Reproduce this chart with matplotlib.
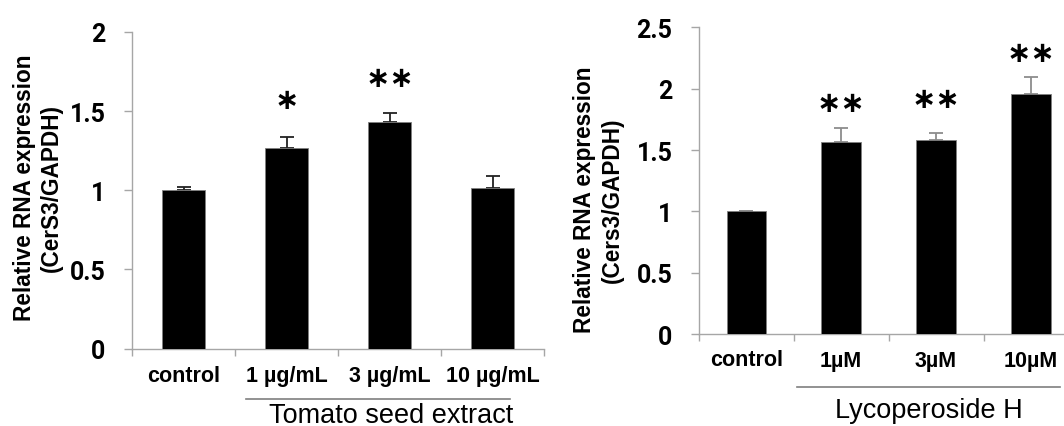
import matplotlib
matplotlib.use("Agg")
import matplotlib.pyplot as plt
from matplotlib.lines import Line2D

# ---- data ----
tse_labels = ["control", "1 µg/mL", "3 µg/mL", "10 µg/mL"]
tse_means = [1.00, 1.265, 1.43, 1.012]
tse_err = [0.02, 0.073, 0.06, 0.078]
tse_stars = ["", "*", "**", ""]
tse_star_y = [0, 1.57, 1.71, 0]

lyc_labels = ["control", "1µM", "3µM", "10µM"]
lyc_means = [1.00, 1.569, 1.58, 1.961]
lyc_err = [0.005, 0.114, 0.062, 0.131]
lyc_stars = ["", "**", "**", "**"]
lyc_star_y = [0, 1.88, 1.92, 2.29]

W, H = 1064, 427
fig = plt.figure(figsize=(W / 100, H / 100), dpi=100)

AXIS_GRAY = "#a6a6a6"
TICK_FONT = dict(family=["Roboto", "DejaVu Sans"], weight="bold", size=18)
CAT_FONT = dict(family=["Liberation Sans", "DejaVu Sans"], weight="bold", size=15.5)
YLAB_FONT = dict(family=["Liberation Sans", "DejaVu Sans"], weight="bold", size=16.3)
GROUP_FONT = dict(family=["Liberation Sans", "DejaVu Sans"], size=19.5)


def px_box(x0, x1, y_top, y_bottom):
    """Axes rectangle from pixel edges (origin top-left)."""
    return [x0 / W, 1 - y_bottom / H, (x1 - x0) / W, (y_bottom - y_top) / H]


def panel(rect, labels, means, errs, stars, star_y, ymax, yticks, ecolor,
          ylabel2, ylab_x, ylab_y, cat_y, line_y, line_x, group, group_x, group_base):
    ax = fig.add_axes(rect)
    x = range(len(labels))
    ax.bar(x, means, width=0.415, color="black", edgecolor="#7f7f7f",
           linewidth=0.6, zorder=3)
    ax.errorbar(x, means, yerr=[[0] * len(errs), errs], fmt="none",
                ecolor=ecolor, elinewidth=1.3, capsize=5, capthick=1.3, zorder=2)
    for xi, s, sy in zip(x, stars, star_y):
        if s:
            ax.text(xi, sy, s.replace("*", "∗"), ha="center", va="center",
                    fontsize=21, family=["DejaVu Sans"], fontweight="bold")
    ax.set_xlim(-0.5, len(labels) - 0.5)
    ax.set_ylim(0, ymax)
    ax.set_yticks(yticks)
    ax.set_yticklabels([f"{t:g}" for t in yticks], **TICK_FONT)
    ax.set_xticks([i - 0.5 for i in range(len(labels) + 1)])
    ax.set_xticklabels([])
    ax.tick_params(axis="y", direction="out", length=6, width=1, color=AXIS_GRAY, pad=13)
    ax.tick_params(axis="x", direction="out", length=5, width=1, color=AXIS_GRAY)
    for side in ("top", "right"):
        ax.spines[side].set_visible(False)
    for side in ("left", "bottom"):
        ax.spines[side].set_color(AXIS_GRAY)
        ax.spines[side].set_linewidth(1)
    ax.patch.set_visible(False)
    for i, lab in enumerate(labels):
        xc = ax.transData.transform((i, 0))[0]
        fig.text(xc / W, 1 - cat_y / H, lab, ha="center", va="center", **CAT_FONT)
    # y-axis title, two lines
    fig.text(ylab_x[0] / W, 1 - ylab_y / H, "Relative RNA expression", rotation=90,
             ha="center", va="center", **YLAB_FONT)
    fig.text(ylab_x[1] / W, 1 - ylab_y / H, ylabel2, rotation=90,
             ha="center", va="center", **YLAB_FONT)
    # treatment group bracket and caption
    fig.add_artist(Line2D([line_x[0] / W, line_x[1] / W], [1 - line_y / H] * 2,
                          color="#7f7f7f", linewidth=1.2))
    fig.text(group_x / W, 1 - group_base / H, group, ha="center", va="baseline",
             **GROUP_FONT)
    return ax


panel(px_box(132, 544, 33, 349.5), tse_labels, tse_means, tse_err, tse_stars,
      tse_star_y, 2, [0, 0.5, 1, 1.5, 2], "#222222", "(CerS3/GAPDH)",
      (25, 51), 188, 377, 399.5, (246, 510), "Tomato seed extract", 391, 423)

panel(px_box(698.8, 1078.4, 28.4, 335.2), lyc_labels, lyc_means, lyc_err, lyc_stars,
      lyc_star_y, 2.5, [0, 0.5, 1, 1.5, 2, 2.5], "#8c8c8c", "(Cers3/GAPDH)",
      (585, 612), 200, 361, 387.7, (797, 1060), "Lycoperoside H", 928.5, 418)

fig.savefig("out.png", dpi=100)
